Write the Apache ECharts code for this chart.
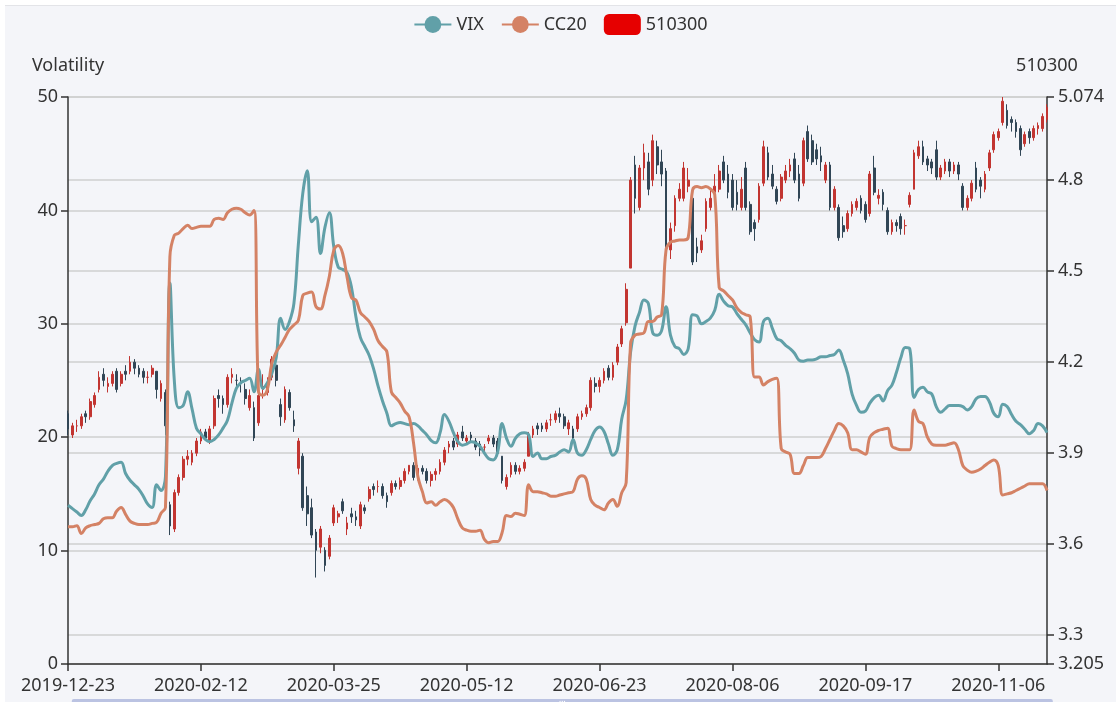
<!DOCTYPE html>
<html>
<head>
<meta charset="utf-8">
<title>VIX / CC20 / 510300</title>
<script src="https://cdn.jsdelivr.net/npm/echarts@6/dist/echarts.min.js"></script>
<style>
html, body { margin: 0; padding: 0; background: #fff; }
#main { position: absolute; left: 5px; top: 5px; width: 1111px; height: 696px;
        background: #f4f5f9; border-top: 1px solid #e3e4e8; }
</style>
</head>
<body>
<div id="main"></div>
<script>
var mychart = echarts.init(document.getElementById('main'));

// trading days shown on the x axis
var dates = [
'2019-12-23','2019-12-24','2019-12-25','2019-12-26','2019-12-27','2019-12-30','2019-12-31',
'2020-01-02','2020-01-03','2020-01-06','2020-01-07','2020-01-08','2020-01-09','2020-01-10','2020-01-13','2020-01-14','2020-01-15','2020-01-16','2020-01-17','2020-01-20','2020-01-21','2020-01-22','2020-01-23',
'2020-02-03','2020-02-04','2020-02-05','2020-02-06','2020-02-07','2020-02-10','2020-02-11','2020-02-12','2020-02-13','2020-02-14','2020-02-17','2020-02-18','2020-02-19','2020-02-20','2020-02-21','2020-02-24','2020-02-25','2020-02-26','2020-02-27','2020-02-28',
'2020-03-02','2020-03-03','2020-03-04','2020-03-05','2020-03-06','2020-03-09','2020-03-10','2020-03-11','2020-03-12','2020-03-13','2020-03-16','2020-03-17','2020-03-18','2020-03-19','2020-03-20','2020-03-23','2020-03-24','2020-03-25','2020-03-26','2020-03-27','2020-03-30','2020-03-31',
'2020-04-01','2020-04-02','2020-04-03','2020-04-07','2020-04-08','2020-04-09','2020-04-10','2020-04-13','2020-04-14','2020-04-15','2020-04-16','2020-04-17','2020-04-20','2020-04-21','2020-04-22','2020-04-23','2020-04-24','2020-04-27','2020-04-28','2020-04-29','2020-04-30',
'2020-05-06','2020-05-07','2020-05-08','2020-05-11','2020-05-12','2020-05-13','2020-05-14','2020-05-15','2020-05-18','2020-05-19','2020-05-20','2020-05-21','2020-05-22','2020-05-25','2020-05-26','2020-05-27','2020-05-28','2020-05-29',
'2020-06-01','2020-06-02','2020-06-03','2020-06-04','2020-06-05','2020-06-08','2020-06-09','2020-06-10','2020-06-11','2020-06-12','2020-06-15','2020-06-16','2020-06-17','2020-06-18','2020-06-19','2020-06-22','2020-06-23','2020-06-24','2020-06-29','2020-06-30',
'2020-07-01','2020-07-02','2020-07-03','2020-07-06','2020-07-07','2020-07-08','2020-07-09','2020-07-10','2020-07-13','2020-07-14','2020-07-15','2020-07-16','2020-07-17','2020-07-20','2020-07-21','2020-07-22','2020-07-23','2020-07-24','2020-07-27','2020-07-28','2020-07-29','2020-07-30','2020-07-31',
'2020-08-03','2020-08-04','2020-08-05','2020-08-06','2020-08-07','2020-08-10','2020-08-11','2020-08-12','2020-08-13','2020-08-14','2020-08-17','2020-08-18','2020-08-19','2020-08-20','2020-08-21','2020-08-24','2020-08-25','2020-08-26','2020-08-27','2020-08-28','2020-08-31',
'2020-09-01','2020-09-02','2020-09-03','2020-09-04','2020-09-07','2020-09-08','2020-09-09','2020-09-10','2020-09-11','2020-09-14','2020-09-15','2020-09-16','2020-09-17','2020-09-18','2020-09-21','2020-09-22','2020-09-23','2020-09-24','2020-09-25','2020-09-28','2020-09-29','2020-09-30',
'2020-10-09','2020-10-12','2020-10-13','2020-10-14','2020-10-15','2020-10-16','2020-10-19','2020-10-20','2020-10-21','2020-10-22','2020-10-23','2020-10-26','2020-10-27','2020-10-28','2020-10-29','2020-10-30',
'2020-11-02','2020-11-03','2020-11-04','2020-11-05','2020-11-06','2020-11-09','2020-11-10','2020-11-11','2020-11-12','2020-11-13','2020-11-16','2020-11-17','2020-11-18','2020-11-19','2020-11-20','2020-11-23'
];

// volatility series (left axis)
var vix = [
14.0,13.7,13.4,13.1,13.6,14.4,15.0,15.8,16.3,17.0,
17.5,17.7,17.8,16.8,16.2,15.8,15.4,14.8,14.1,13.8,
15.8,15.3,16.5,33.6,25.0,22.6,22.8,24.0,22.5,20.8,
20.3,19.8,19.6,19.8,20.2,20.8,21.5,23.0,24.3,24.8,
25.0,25.2,24.0,26.0,24.3,24.8,25.6,27.0,30.5,29.5,
30.2,31.8,37.0,41.5,43.5,39.0,39.4,36.2,38.5,39.8,
36.8,35.0,34.8,34.5,33.2,30.6,28.8,28.0,27.2,26.0,
24.5,23.2,22.1,21.0,21.2,21.3,21.2,21.1,21.2,21.0,
20.6,20.2,19.7,19.5,20.4,22.0,21.4,20.4,19.6,19.3,
19.4,19.6,19.5,19.2,18.6,18.1,18.0,18.7,21.2,19.9,
19.2,19.9,20.3,20.4,20.2,18.3,18.6,18.1,18.1,18.3,
18.4,18.7,18.9,18.7,19.8,18.6,18.4,18.9,19.8,20.6,
20.9,20.5,19.4,18.4,18.9,21.6,23.3,27.5,29.8,31.0,
32.1,31.8,29.2,29.0,29.4,31.5,29.0,28.0,27.8,27.3,
27.8,30.8,30.7,30.0,30.2,30.5,31.2,32.6,32.0,31.6,
31.5,30.9,30.4,29.9,29.2,28.6,28.4,30.2,30.5,29.6,
28.7,28.5,28.1,27.8,27.4,26.8,26.7,26.8,26.8,26.9,
27.1,27.1,27.2,27.3,27.7,26.8,25.6,23.8,22.8,22.2,
22.3,23.0,23.5,23.7,23.2,24.1,24.6,25.7,27.0,27.9,
27.8,23.5,24.2,24.4,24.0,23.8,22.7,22.2,22.5,22.8,
22.8,22.8,22.7,22.4,22.7,23.4,23.6,23.6,23.1,22.1,
21.8,22.9,22.7,22.0,21.4,21.1,20.7,20.3,20.6,21.2,
21.0,20.4
];

var cc20 = [
12.1,12.1,12.2,11.5,12.0,12.2,12.3,12.4,12.8,12.9,
12.9,13.5,13.8,13.2,12.6,12.4,12.3,12.3,12.3,12.4,
12.5,13.3,13.8,35.9,37.8,38.0,38.4,38.7,38.4,38.5,
38.6,38.6,38.6,39.2,39.3,39.2,39.8,40.1,40.2,40.1,
39.8,39.6,40.0,24.0,23.7,24.2,26.5,27.5,28.1,28.8,
29.5,29.9,30.3,32.5,32.7,32.8,31.5,31.3,32.5,34.2,
36.5,36.9,36.2,34.1,32.3,32.1,31.0,30.6,30.2,29.5,
28.5,28.0,27.5,24.0,23.5,23.0,22.3,21.8,19.5,16.5,
15.2,14.2,14.3,14.0,14.3,14.5,14.3,13.8,12.8,12.0,
11.8,11.7,11.7,11.8,11.0,10.7,10.8,10.8,11.6,13.1,
13.0,13.3,13.2,13.1,15.8,15.2,15.2,15.1,15.0,14.8,
14.8,14.9,15.0,15.1,15.2,16.3,16.6,16.3,14.5,14.0,
13.8,13.6,14.2,14.5,13.9,15.1,16.0,28.3,29.0,29.1,
29.2,30.2,30.2,30.6,30.8,36.5,37.2,37.3,37.4,37.4,
37.6,41.8,42.1,42.0,42.1,41.9,41.4,33.2,32.9,32.5,
32.1,31.4,31.0,30.8,30.6,25.3,25.3,24.6,24.9,25.1,
25.2,19.0,18.7,18.5,16.8,16.8,17.5,18.2,18.2,18.2,
18.3,19.0,19.8,20.6,21.2,21.0,20.4,18.9,18.9,18.7,
18.5,20.0,20.4,20.6,20.7,20.8,19.2,19.0,18.9,18.9,
18.9,22.4,21.4,21.2,20.0,19.4,19.3,19.3,19.3,19.4,
19.5,18.9,17.5,17.1,16.9,17.0,17.2,17.5,17.8,18.0,
17.5,14.9,15.0,15.1,15.3,15.5,15.7,15.9,15.9,15.9,
15.9,15.3
];

// 510300 daily bars: [open, close, low, high] (right axis)
var k510300 = [
[4.03,3.98,3.96,4.04],[3.96,3.99,3.95,4.00],[3.99,3.99,3.97,4.01],[3.99,4.02,3.98,4.03],[4.03,4.02,4.00,4.04],
[4.02,4.07,4.01,4.08],[4.06,4.09,4.05,4.10],[4.11,4.15,4.10,4.17],[4.16,4.14,4.12,4.18],[4.12,4.13,4.10,4.15],
[4.13,4.16,4.12,4.17],[4.17,4.11,4.10,4.18],[4.13,4.16,4.12,4.17],[4.17,4.16,4.14,4.19],[4.17,4.20,4.16,4.22],
[4.20,4.18,4.16,4.21],[4.18,4.16,4.15,4.19],[4.17,4.15,4.13,4.18],[4.15,4.15,4.13,4.17],[4.16,4.18,4.15,4.19],
[4.17,4.11,4.08,4.17],[4.08,4.13,4.07,4.14],[4.10,3.99,3.96,4.11],[3.73,3.66,3.63,3.74],[3.65,3.77,3.64,3.78],
[3.77,3.82,3.76,3.83],[3.82,3.88,3.81,3.89],[3.88,3.89,3.86,3.91],[3.87,3.90,3.86,3.91],[3.90,3.94,3.89,3.95],
[3.94,3.97,3.93,3.98],[3.97,3.95,3.94,3.98],[3.94,3.98,3.93,3.99],[3.99,4.08,3.98,4.09],[4.09,4.08,4.05,4.11],
[4.08,4.06,4.03,4.09],[4.06,4.15,4.05,4.16],[4.15,4.16,4.13,4.18],[4.14,4.14,4.11,4.16],[4.13,4.13,4.10,4.15],
[4.11,4.08,4.06,4.13],[4.05,4.09,4.04,4.11],[4.05,3.95,3.94,4.07],[4.00,4.09,3.99,4.10],[4.11,4.12,4.08,4.16],
[4.10,4.13,4.09,4.15],[4.15,4.21,4.14,4.22],[4.19,4.14,4.12,4.20],[4.06,4.02,3.99,4.08],[4.01,4.11,4.00,4.12],
[4.10,4.05,4.04,4.11],[4.01,3.99,3.97,4.04],[3.85,3.94,3.83,3.95],[3.89,3.72,3.71,3.90],[3.76,3.70,3.66,3.79],
[3.72,3.63,3.62,3.75],[3.64,3.58,3.49,3.65],[3.59,3.65,3.57,3.66],[3.58,3.53,3.51,3.59],[3.56,3.62,3.55,3.63],
[3.67,3.72,3.66,3.73],[3.69,3.70,3.67,3.71],[3.74,3.71,3.70,3.75],[3.65,3.67,3.63,3.69],[3.70,3.69,3.67,3.72],
[3.69,3.68,3.66,3.71],[3.66,3.73,3.65,3.74],[3.72,3.71,3.70,3.73],[3.75,3.78,3.74,3.79],[3.79,3.78,3.76,3.80],
[3.79,3.79,3.77,3.81],[3.79,3.76,3.75,3.80],[3.76,3.74,3.72,3.77],[3.77,3.80,3.76,3.81],[3.80,3.79,3.78,3.81],
[3.79,3.81,3.78,3.82],[3.81,3.84,3.80,3.85],[3.84,3.86,3.83,3.86],[3.86,3.82,3.81,3.87],[3.82,3.85,3.81,3.86],
[3.85,3.84,3.83,3.86],[3.84,3.81,3.80,3.85],[3.81,3.83,3.79,3.84],[3.83,3.84,3.81,3.85],[3.84,3.87,3.83,3.88],
[3.87,3.91,3.86,3.92],[3.92,3.93,3.90,3.94],[3.94,3.92,3.91,3.95],[3.93,3.96,3.92,3.97],[3.97,3.95,3.94,3.99],
[3.94,3.95,3.93,3.96],[3.96,3.95,3.94,3.97],[3.94,3.92,3.91,3.95],[3.93,3.91,3.89,3.94],[3.92,3.92,3.90,3.93],
[3.94,3.95,3.93,3.96],[3.95,3.93,3.92,3.96],[3.94,3.90,3.89,3.95],[3.89,3.81,3.80,3.89],[3.79,3.82,3.78,3.83],
[3.83,3.86,3.82,3.87],[3.86,3.84,3.83,3.87],[3.84,3.85,3.83,3.86],[3.85,3.87,3.84,3.88],[3.89,3.96,3.89,3.97],
[3.96,3.98,3.95,3.99],[3.99,3.98,3.96,4.00],[3.99,3.98,3.97,4.00],[3.98,4.00,3.97,4.01],[4.01,4.01,3.99,4.03],
[4.01,4.03,4.00,4.04],[4.03,4.02,4.00,4.05],[4.02,3.99,3.98,4.03],[3.98,4.00,3.96,4.01],[3.98,3.95,3.93,3.99],
[3.98,4.02,3.97,4.03],[4.02,4.03,4.01,4.04],[4.03,4.05,4.02,4.06],[4.05,4.14,4.04,4.15],[4.13,4.12,4.10,4.15],
[4.12,4.14,4.10,4.15],[4.14,4.17,4.13,4.18],[4.18,4.15,4.14,4.19],[4.15,4.19,4.14,4.20],[4.20,4.25,4.19,4.26],
[4.26,4.31,4.25,4.32],[4.33,4.44,4.32,4.46],[4.51,4.80,4.51,4.81],[4.85,4.74,4.69,4.88],[4.71,4.84,4.70,4.85],
[4.84,4.89,4.80,4.92],[4.86,4.77,4.75,4.89],[4.80,4.93,4.78,4.95],[4.91,4.85,4.82,4.93],[4.86,4.82,4.78,4.90],
[4.83,4.56,4.55,4.84],[4.57,4.64,4.54,4.66],[4.65,4.74,4.63,4.75],[4.74,4.77,4.73,4.79],[4.74,4.84,4.73,4.86],
[4.78,4.80,4.76,4.84],[4.74,4.53,4.52,4.76],[4.58,4.56,4.53,4.61],[4.57,4.60,4.56,4.62],[4.64,4.73,4.63,4.74],
[4.71,4.74,4.70,4.77],[4.76,4.78,4.74,4.82],[4.77,4.83,4.76,4.85],[4.86,4.80,4.79,4.88],[4.82,4.76,4.74,4.85],
[4.80,4.71,4.70,4.82],[4.76,4.72,4.70,4.80],[4.71,4.77,4.70,4.81],[4.84,4.71,4.70,4.86],[4.72,4.63,4.62,4.73],
[4.66,4.64,4.60,4.67],[4.67,4.78,4.66,4.79],[4.79,4.91,4.78,4.93],[4.89,4.81,4.80,4.91],[4.82,4.78,4.77,4.85],
[4.77,4.73,4.72,4.78],[4.74,4.81,4.73,4.82],[4.80,4.83,4.79,4.85],[4.83,4.85,4.81,4.87],[4.87,4.80,4.79,4.89],
[4.82,4.74,4.73,4.85],[4.79,4.93,4.78,4.94],[4.96,4.87,4.86,4.98],[4.93,4.86,4.85,4.95],[4.90,4.87,4.85,4.92],
[4.88,4.86,4.83,4.91],[4.80,4.85,4.79,4.86],[4.85,4.71,4.70,4.86],[4.71,4.77,4.70,4.78],[4.71,4.61,4.60,4.72],
[4.65,4.63,4.61,4.68],[4.64,4.69,4.63,4.70],[4.69,4.72,4.68,4.73],[4.71,4.73,4.70,4.74],[4.74,4.70,4.69,4.75],
[4.72,4.67,4.66,4.73],[4.69,4.82,4.68,4.83],[4.84,4.76,4.75,4.88],[4.74,4.75,4.72,4.77],[4.76,4.72,4.70,4.77],
[4.70,4.63,4.62,4.71],[4.63,4.66,4.62,4.67],[4.66,4.65,4.63,4.67],[4.68,4.64,4.62,4.69],[4.65,4.65,4.62,4.67],
[4.72,4.75,4.71,4.76],[4.77,4.89,4.77,4.90],[4.88,4.91,4.87,4.93],[4.91,4.86,4.85,4.93],[4.87,4.85,4.83,4.88],
[4.86,4.84,4.82,4.87],[4.90,4.81,4.80,4.93],[4.81,4.84,4.80,4.85],[4.83,4.86,4.82,4.87],[4.86,4.83,4.81,4.87],
[4.83,4.85,4.82,4.86],[4.85,4.82,4.80,4.86],[4.78,4.71,4.70,4.79],[4.71,4.74,4.70,4.75],[4.74,4.79,4.73,4.80],
[4.84,4.77,4.76,4.86],[4.80,4.78,4.74,4.81],[4.77,4.82,4.76,4.83],[4.84,4.89,4.83,4.90],[4.90,4.95,4.89,4.96],
[4.94,4.96,4.93,4.97],[4.99,5.06,4.98,5.074],[5.03,4.98,4.97,5.05],[5.00,4.99,4.96,5.01],[4.99,4.96,4.94,5.00],
[4.97,4.90,4.88,4.98],[4.92,4.95,4.91,4.96],[4.96,4.94,4.92,4.97],[4.94,4.97,4.93,4.98],[4.97,4.98,4.95,4.99],
[4.97,5.01,4.96,5.02],[5.00,5.04,4.99,5.05]
];

var textColor = '#333';
var font = 'Noto Sans';

var option = {
    backgroundColor: '#f4f5f9',
    animation: false,
    textStyle: { fontFamily: font },
    legend: {
        top: 3,
        left: 'center',
        itemWidth: 37,
        itemHeight: 21,
        itemGap: 17,
        textStyle: { fontSize: 18, color: textColor, fontFamily: font },
        data: ['VIX', 'CC20', {
            name: '510300',
            itemStyle: { color: '#e60000', borderColor: '#e60000', borderWidth: 0 }
        }]
    },
    grid: { left: 63, right: 69, top: 91, bottom: 38 },
    xAxis: {
        type: 'category',
        data: dates,
        boundaryGap: false,
        axisLine: { lineStyle: { color: textColor, width: 1.5 } },
        axisTick: { interval: 29, length: 7, lineStyle: { color: textColor, width: 1.5 } },
        axisLabel: { interval: 29, fontSize: 18, color: textColor, margin: 13, fontFamily: font },
        splitLine: { show: false }
    },
    yAxis: [
        {
            type: 'value',
            name: 'Volatility',
            position: 'left',
            min: 0,
            max: 50,
            interval: 10,
            nameGap: 22,
            nameTextStyle: { fontSize: 18, color: textColor, fontFamily: font },
            axisLine: { show: true, lineStyle: { color: textColor, width: 1.5 } },
            axisTick: { show: true, length: 7, lineStyle: { color: textColor, width: 1.5 } },
            axisLabel: { fontSize: 18, color: textColor, margin: 10, fontFamily: font },
            splitLine: { lineStyle: { color: '#cfcfcf', width: 1.5 } }
        },
        {
            type: 'value',
            name: '510300',
            position: 'right',
            min: 3.205,
            max: 5.074,
            nameGap: 22,
            nameTextStyle: { fontSize: 18, color: textColor, fontFamily: font },
            axisLine: { show: true, lineStyle: { color: textColor, width: 1.5 } },
            axisTick: { show: true, length: 7, lineStyle: { color: textColor, width: 1.5 } },
            axisLabel: { fontSize: 18, color: textColor, margin: 11, fontFamily: font },
            splitLine: { lineStyle: { color: '#cfcfcf', width: 1.5 } }
        }
    ],
    dataZoom: [
        { type: 'slider', xAxisIndex: 0, left: 64, right: 66, top: 693, height: 40, showDetail: false }
    ],
    series: [
        {
            name: 'VIX',
            type: 'line',
            yAxisIndex: 0,
            data: vix,
            smooth: 0.4,
            symbol: 'circle',
            showSymbol: false,
            itemStyle: { color: '#61a0a8' },
            lineStyle: { width: 3, color: '#61a0a8' }
        },
        {
            name: 'CC20',
            type: 'line',
            yAxisIndex: 0,
            data: cc20,
            smooth: 0.4,
            symbol: 'circle',
            showSymbol: false,
            itemStyle: { color: '#d48265' },
            lineStyle: { width: 3, color: '#d48265' }
        },
        {
            name: '510300',
            type: 'candlestick',
            yAxisIndex: 1,
            data: k510300,
            itemStyle: {
                color: '#c23531',
                color0: '#314656',
                borderColor: '#c23531',
                borderColor0: '#314656',
                borderWidth: 1
            }
        }
    ]
};

mychart.setOption(option);
</script>
</body>
</html>
